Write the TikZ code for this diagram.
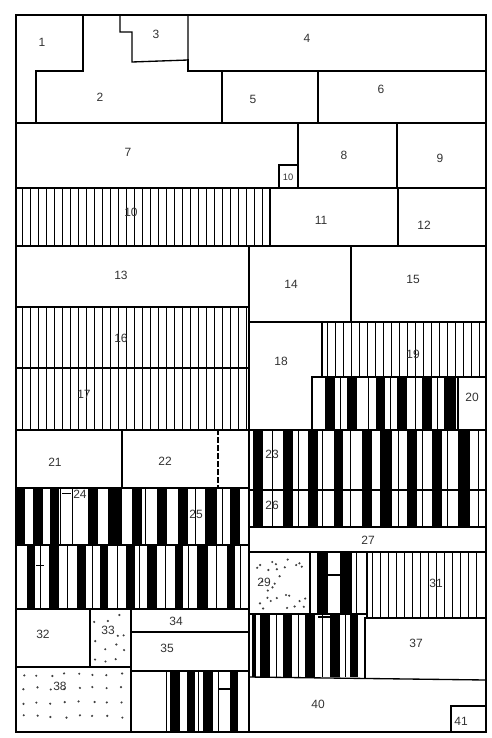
\documentclass[tikz,border=0pt]{standalone}
\usepackage{fontspec}
\setmainfont{Liberation Sans}
\newcommand\mybars[3]{\foreach \a/\w in {#3} {\fill (\a,#1) rectangle (\a+\w,#2);}}
\newcommand\mythin[3]{\foreach \a in {#3} {\draw[hatchline] (\a,#1) -- (\a,#2);}}
\begin{document}
\begin{tikzpicture}[x=0.75pt,y=-0.75pt,
  wall/.style={line width=1pt, line cap=rect},
  hatchline/.style={line width=0.75pt},
  lab/.style={font=\fontsize{9}{10}\selectfont, inner sep=1pt, text=black!80},
  dot/.style={fill=black!75}]
\useasboundingbox (0,0) rectangle (492,738);
\fill[white] (0,0) rectangle (492,738);
% ---- fine vertical hatching
\foreach \x in {22,30,...,266} {\draw[hatchline] (\x,188) -- (\x,246);}
\foreach \x in {22,30,...,246} {\draw[hatchline] (\x,307) -- (\x,368);}
\foreach \x in {22,30,...,246} {\draw[hatchline] (\x,368) -- (\x,430);}
\foreach \x in {327,335,...,482} {\draw[hatchline] (\x,322) -- (\x,377);}
\foreach \x in {372,380,...,480} {\draw[hatchline] (\x,552) -- (\x,618);}
% ---- black bars
\mybars{377}{430}{325/10,347/10,376/9,397/10,422/10,444/12}
\mythin{377}{430}{340,368,390,415,437}
\mybars{430}{527}{253/10,283/10,308/10,334/9,362/10,380/12,407/10,432/10,458/12}
\mythin{430}{527}{272,298,322,350,398,422,447,478}
\mybars{488}{545}{16/9,33/10,50/9,88/10,108/14,132/10,157/10,178/10,205/12,230/10}
\mythin{488}{545}{60,72,145,195,222}
\mybars{545}{609}{27/8,49/10,77/9,100/8,126/9,147/10,175/8,197/11,227/8}
\mythin{545}{609}{40,67,92,117,139,165,188,216,240}
\mybars{552}{614}{317/11,340/12}
\mythin{552}{614}{356}
\mybars{614}{677}{252/4,260/10,283/9,305/10,330/10,350/8}
\mythin{614}{677}{276,298,322,345}
\mybars{671}{732}{170/10,187/8,203/10,230/8}
\mythin{671}{732}{166,198,218}
% H marks
\draw[line width=0.9pt] (328,575) -- (340,575);
\draw[line width=0.9pt] (318,617) -- (330,617);
\draw[line width=0.9pt] (218,689) -- (230,689);
\draw[line width=0.7pt] (36,565) -- (44,565);
\draw[line width=0.7pt] (62,493) -- (71,493);
% ---- dots
\pgfmathsetseed{7}
\foreach \i in {1,...,28} {\pgfmathsetmacro\px{254+52*rnd}\pgfmathsetmacro\py{556+54*rnd}\fill[dot] (\px,\py) circle (1.2);}
\foreach \i in {1,...,12} {\pgfmathsetmacro\px{94+33*rnd}\pgfmathsetmacro\py{612+52*rnd}\fill[dot] (\px,\py) circle (1.2);}
\foreach \r in {0,...,3} {\foreach \c in {0,...,7} {\pgfmathsetmacro\px{22+14*\c+3*rnd}\pgfmathsetmacro\py{673+14*\r+3*rnd}\fill[dot] (\px,\py) circle (1.2);}}
% ---- walls
\draw[wall] (16,15) rectangle (486,732);
\draw[wall] (83,15) -- (83,71) -- (36,71) -- (36,123);
\draw[wall] (120,15) -- (120,32) -- (132,32) -- (132,62) -- (188,60) -- (188,15);
\draw[wall] (188,60) -- (188,71) -- (486,71);
\draw[wall] (222,71) -- (222,123);
\draw[wall] (318,71) -- (318,123);
\draw[wall] (16,123) -- (486,123);
\draw[wall] (298,123) -- (298,188);
\draw[wall] (397,123) -- (397,188);
\draw[wall] (279,188) -- (279,165) -- (298,165);
\draw[wall] (16,188) -- (486,188);
\draw[wall] (270,188) -- (270,246);
\draw[wall] (398,188) -- (398,246);
\draw[wall] (16,246) -- (486,246);
\draw[wall] (249,246) -- (249,732);
\draw[wall] (351,246) -- (351,322);
\draw[wall] (16,307) -- (249,307);
\draw[wall] (249,322) -- (486,322);
\draw[wall] (16,368) -- (249,368);
\draw[wall] (322,322) -- (322,377);
\draw[wall] (312,430) -- (312,377) -- (486,377);
\draw[wall] (458,377) -- (458,430);
\draw[wall] (16,430) -- (486,430);
\draw[wall] (122,430) -- (122,488);
\draw[wall, dashed] (218,430) -- (218,488);
\draw[wall] (16,488) -- (249,488);
\draw[wall] (249,490) -- (486,490);
\draw[wall] (249,527) -- (486,527);
\draw[wall] (16,545) -- (249,545);
\draw[wall] (249,552) -- (486,552);
\draw[wall] (310,552) -- (310,614);
\draw[wall] (367,552) -- (367,618);
\draw[wall] (16,609) -- (249,609);
\draw[wall] (249,614) -- (367,614);
\draw[wall] (367,618) -- (486,618);
\draw[wall] (90,609) -- (90,667);
\draw[wall] (131,609) -- (131,732);
\draw[wall] (131,632) -- (249,632);
\draw[wall] (16,667) -- (131,667);
\draw[wall] (131,671) -- (249,671);
\draw[wall] (365,618) -- (365,678);
\draw[wall] (249,677) -- (486,680);
\draw[wall] (451,732) -- (451,706) -- (486,706);
% ---- labels
\node[lab] (l1) at (42,42) {1};
\node[lab] (l2) at (100,97) {2};
\node[lab] (l3) at (156,34) {3};
\node[lab] (l4) at (307,38) {4};
\node[lab] (l5) at (253,99) {5};
\node[lab] (l6) at (381,89) {6};
\node[lab] (l7) at (128,152) {7};
\node[lab] (l8) at (344,155) {8};
\node[lab] (l9) at (440,158) {9};
\node[lab, font=\fontsize{7}{8}\selectfont] (l10) at (288,177) {10};
\node[lab] (l10b) at (131,212) {10};
\node[lab] (l11) at (321,220) {11};
\node[lab] (l12) at (424,225) {12};
\node[lab] (l13) at (121,275) {13};
\node[lab] (l14) at (291,284) {14};
\node[lab] (l15) at (413,279) {15};
\node[lab] (l16) at (121,338) {16};
\node[lab] (l17) at (84,394) {17};
\node[lab] (l18) at (281,361) {18};
\node[lab] (l19) at (413,354) {19};
\node[lab] (l20) at (472,397) {20};
\node[lab] (l21) at (55,462) {21};
\node[lab] (l22) at (165,461) {22};
\node[lab] (l23) at (272,454) {23};
\node[lab] (l24) at (80,494) {24};
\node[lab] (l25) at (196,514) {25};
\node[lab] (l26) at (272,505) {26};
\node[lab] (l27) at (368,540) {27};
\node[lab] (l29) at (264,582) {29};
\node[lab] (l31) at (436,583) {31};
\node[lab] (l32) at (43,634) {32};
\node[lab] (l33) at (108,630) {33};
\node[lab] (l34) at (176,621) {34};
\node[lab] (l35) at (167,648) {35};
\node[lab] (l37) at (416,643) {37};
\node[lab] (l38) at (60,686) {38};
\node[lab] (l40) at (318,704) {40};
\node[lab] (l41) at (461,721) {41};
\end{tikzpicture}
\end{document}
